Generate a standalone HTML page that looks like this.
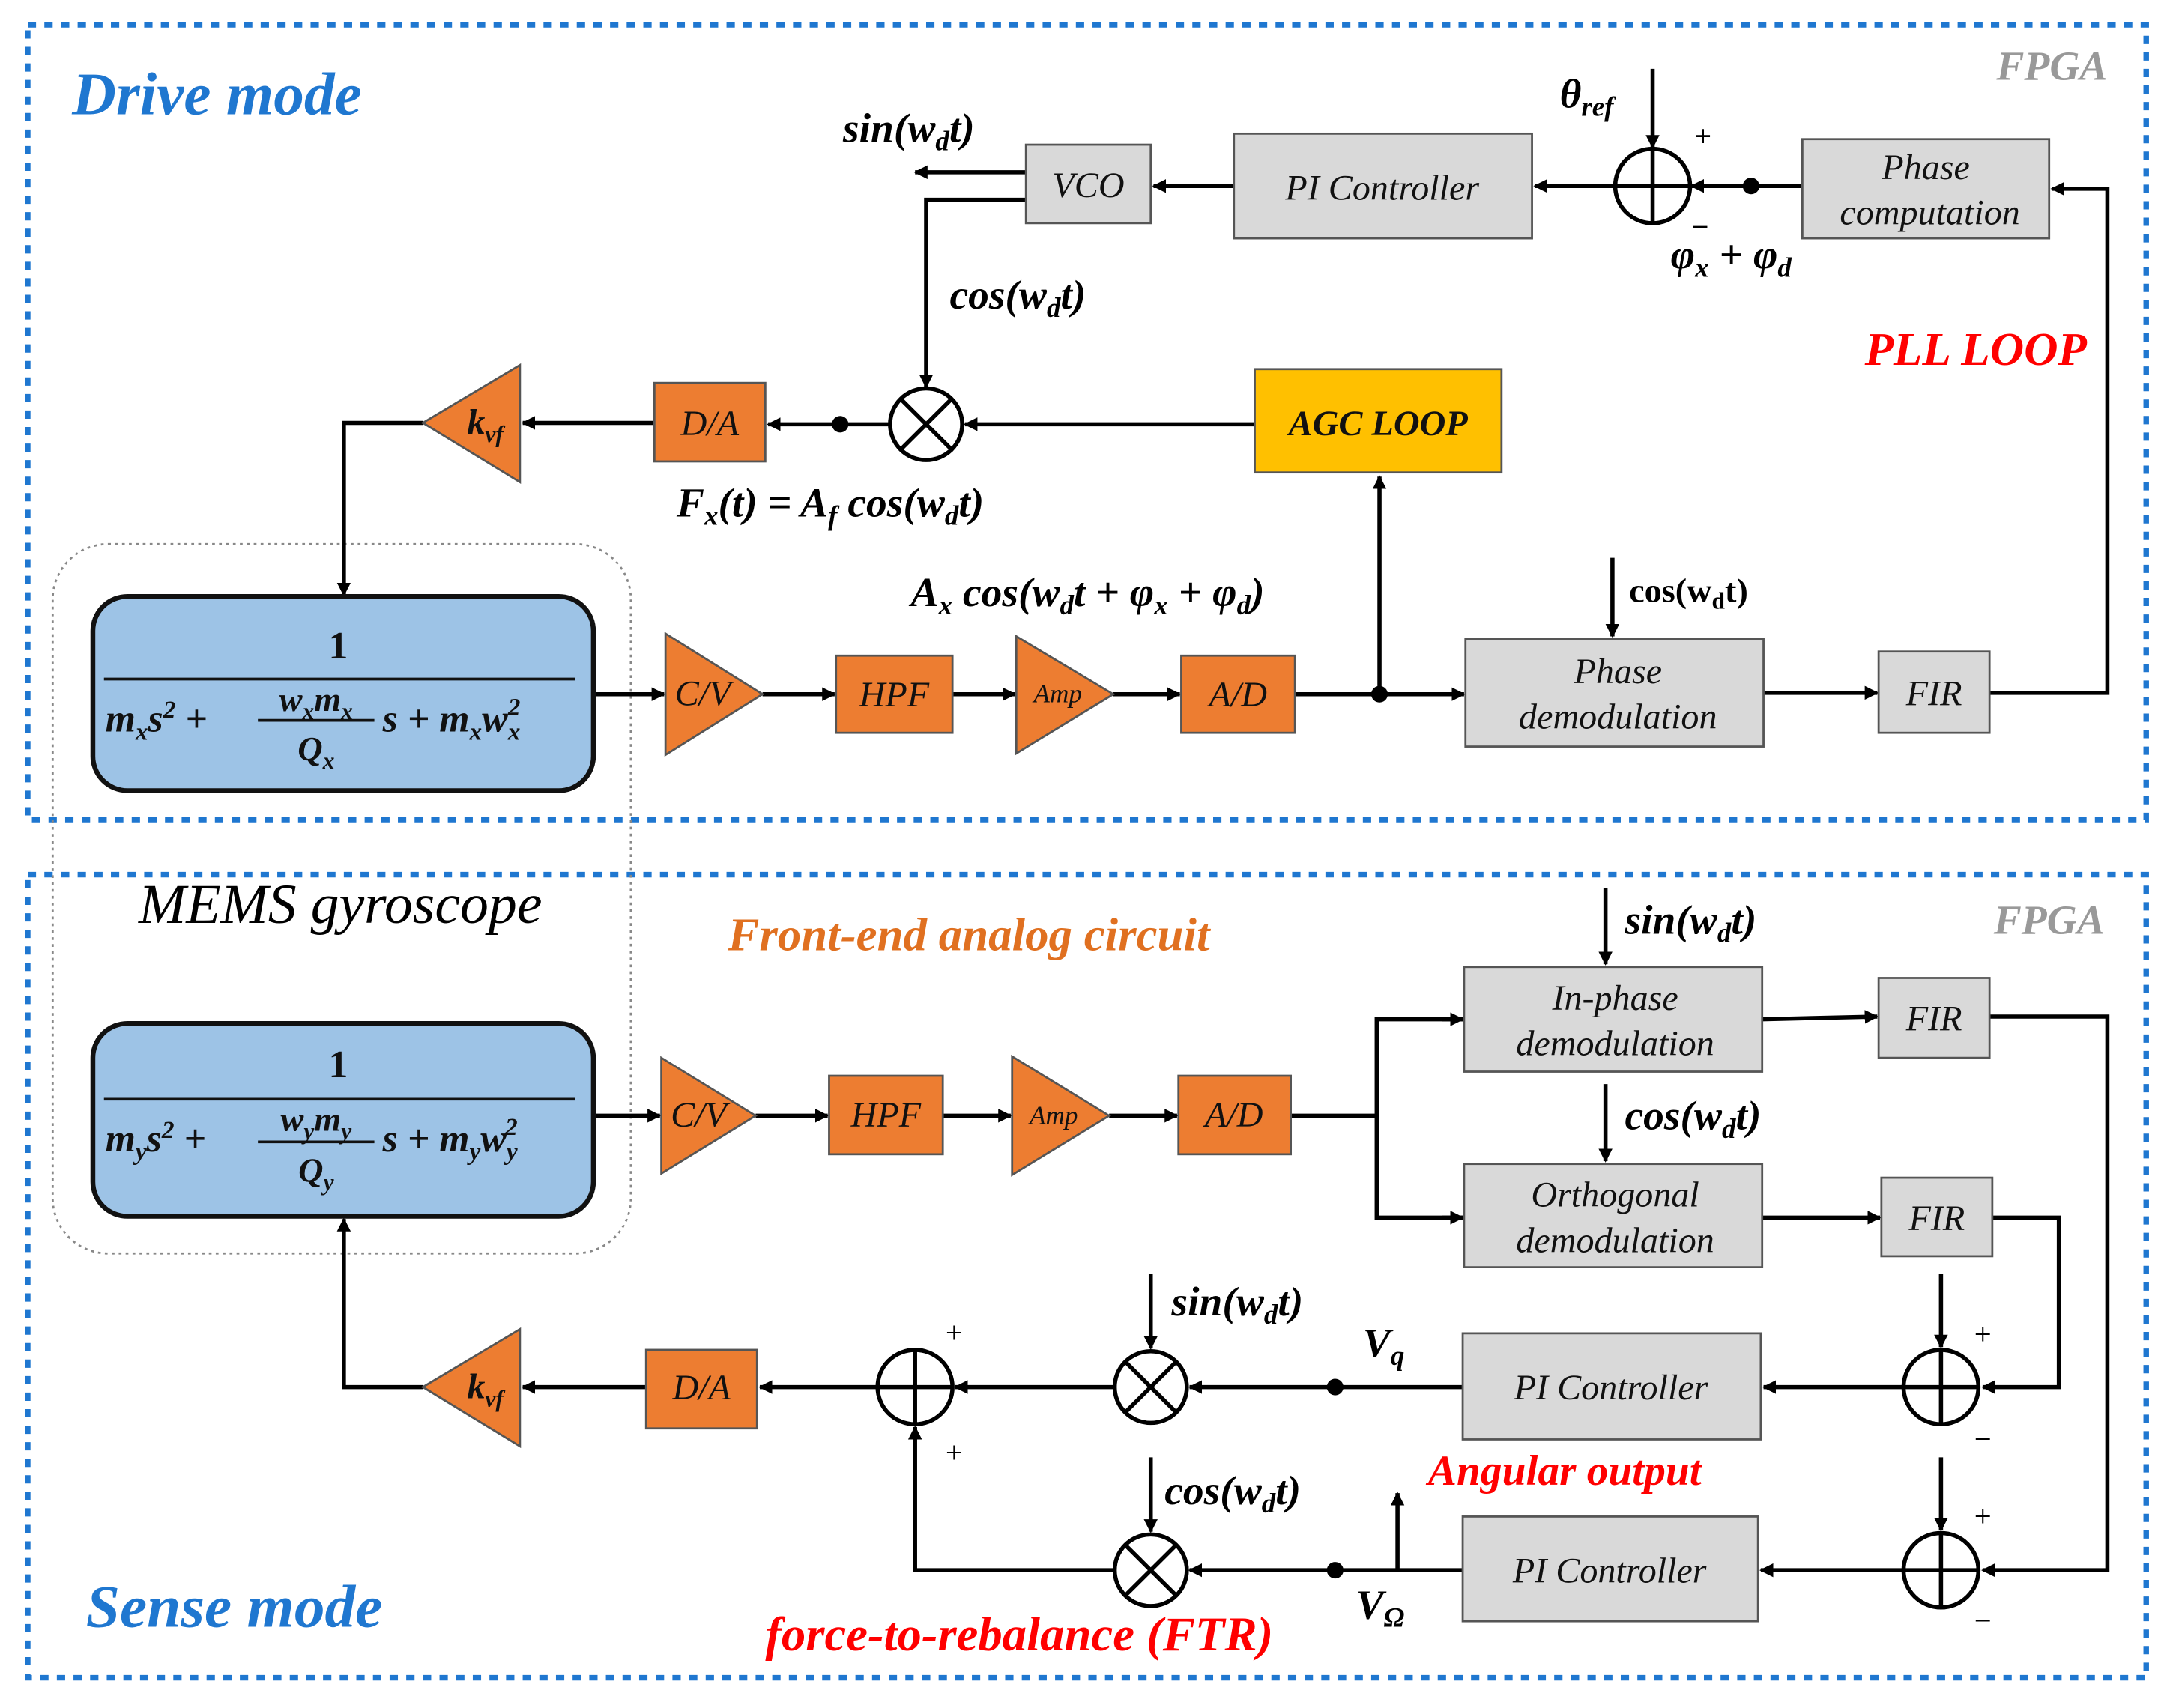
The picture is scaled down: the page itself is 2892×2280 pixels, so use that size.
<!DOCTYPE html>
<html><head><meta charset="utf-8"><style>
html,body{margin:0;padding:0;background:#fff;}
svg{display:block;}
text{font-family:"Liberation Serif",serif;}
.b{font-weight:bold;font-style:italic;}
.lbl{font-style:italic;font-size:26px;fill:#111;}
</style></head><body>
<svg width="2892" height="2280" viewBox="0 0 1563 1240" preserveAspectRatio="none" xmlns="http://www.w3.org/2000/svg">
<defs>
<marker id="a" markerWidth="10" markerHeight="10" refX="9" refY="5" orient="auto" markerUnits="userSpaceOnUse"><path d="M0,0 L10,5 L0,10 z" fill="#000"/></marker>
</defs>
<rect width="1563" height="1240" fill="#fff"/>
<rect x="20" y="18" width="1528" height="577" fill="none" stroke="#1f77d0" stroke-width="4" stroke-dasharray="6,6"/>
<rect x="20" y="635" width="1528" height="583" fill="none" stroke="#1f77d0" stroke-width="4" stroke-dasharray="6,6"/>
<rect x="38" y="395" width="417" height="515" rx="40" fill="none" stroke="#888" stroke-width="1.5" stroke-dasharray="2,3"/>
<text x="52" y="83" class="b" font-size="44" fill="#1f77d0">Drive mode</text>
<text x="62" y="1181" class="b" font-size="44" fill="#1f77d0">Sense mode</text>
<text x="1440" y="58" class="b" font-size="30" fill="#999">FPGA</text>
<text x="1438" y="678" class="b" font-size="30" fill="#999">FPGA</text>
<text x="1345" y="265" class="b" font-size="34" fill="#ff0000">PLL  LOOP</text>
<text x="100" y="670" font-style="italic" font-size="41" fill="#000">MEMS gyroscope</text>
<text x="525" y="690" class="b" font-size="34" fill="#e07020">Front-end analog circuit</text>
<text x="1030" y="1078" class="b" font-size="31" fill="#ff0000">Angular output</text>
<text x="552" y="1198" class="b" font-size="35" fill="#ff0000">force-to-rebalance (FTR)</text>

<g stroke="#000" stroke-width="3" fill="none">
<line x1="740" y1="125" x2="660" y2="125" marker-end="url(#a)"/>
<line x1="890" y1="135" x2="832" y2="135" marker-end="url(#a)"/>
<line x1="1165" y1="135" x2="1107" y2="135" marker-end="url(#a)"/>
<line x1="1300" y1="135" x2="1220" y2="135" marker-end="url(#a)"/>
<line x1="1192" y1="50" x2="1192" y2="107" marker-end="url(#a)"/>
<polyline points="740,145 668,145 668,281" marker-end="url(#a)"/>
<line x1="905" y1="308" x2="696" y2="308" marker-end="url(#a)"/>
<line x1="642" y1="308" x2="554" y2="308" marker-end="url(#a)"/>
<line x1="472" y1="307" x2="377" y2="307" marker-end="url(#a)"/>
<polyline points="305,307 248,307 248,432" marker-end="url(#a)"/>
<line x1="428" y1="504" x2="479" y2="504" marker-end="url(#a)"/>
<line x1="550" y1="504" x2="602" y2="504" marker-end="url(#a)"/>
<line x1="687" y1="504" x2="732" y2="504" marker-end="url(#a)"/>
<line x1="803" y1="504" x2="851" y2="504" marker-end="url(#a)"/>
<line x1="934" y1="504" x2="1056" y2="504" marker-end="url(#a)"/>
<line x1="995" y1="504" x2="995" y2="346" marker-end="url(#a)"/>
<line x1="1272" y1="503" x2="1354" y2="503" marker-end="url(#a)"/>
<line x1="1163" y1="405" x2="1163" y2="462" marker-end="url(#a)"/>
<polyline points="1435,503 1520,503 1520,137 1480,137" marker-end="url(#a)"/>
<line x1="428" y1="810" x2="476" y2="810" marker-end="url(#a)"/>
<line x1="545" y1="810" x2="597" y2="810" marker-end="url(#a)"/>
<line x1="680" y1="810" x2="729" y2="810" marker-end="url(#a)"/>
<line x1="800" y1="810" x2="849" y2="810" marker-end="url(#a)"/>
<line x1="931" y1="810" x2="993" y2="810"/>
<polyline points="1055,740 993,740 993,884 1055,884" />
<line x1="1040" y1="740" x2="1055" y2="740" marker-end="url(#a)"/>
<line x1="1040" y1="884" x2="1055" y2="884" marker-end="url(#a)"/>
<line x1="1158" y1="645" x2="1158" y2="700" marker-end="url(#a)"/>
<line x1="1158" y1="787" x2="1158" y2="843" marker-end="url(#a)"/>
<line x1="1271" y1="740" x2="1354" y2="738" marker-end="url(#a)"/>
<line x1="1271" y1="884" x2="1356" y2="884" marker-end="url(#a)"/>
<polyline points="1435,738 1520,738 1520,1140 1430,1140" marker-end="url(#a)"/>
<polyline points="1437,884 1485,884 1485,1007 1430,1007" marker-end="url(#a)"/>
<line x1="1400" y1="925" x2="1400" y2="978" marker-end="url(#a)"/>
<line x1="1400" y1="1058" x2="1400" y2="1111" marker-end="url(#a)"/>
<line x1="1373" y1="1007" x2="1272" y2="1007" marker-end="url(#a)"/>
<line x1="1373" y1="1140" x2="1270" y2="1140" marker-end="url(#a)"/>
<line x1="1055" y1="1007" x2="858" y2="1007" marker-end="url(#a)"/>
<line x1="1055" y1="1140" x2="858" y2="1140" marker-end="url(#a)"/>
<line x1="1008" y1="1140" x2="1008" y2="1084" marker-end="url(#a)"/>
<line x1="830" y1="925" x2="830" y2="979" marker-end="url(#a)"/>
<line x1="830" y1="1058" x2="830" y2="1112" marker-end="url(#a)"/>
<line x1="804" y1="1007" x2="689" y2="1007" marker-end="url(#a)"/>
<polyline points="804,1140 660,1140 660,1036" marker-end="url(#a)"/>
<line x1="633" y1="1007" x2="548" y2="1007" marker-end="url(#a)"/>
<line x1="466" y1="1007" x2="377" y2="1007" marker-end="url(#a)"/>
<polyline points="305,1007 248,1007 248,885" marker-end="url(#a)"/>
</g>
<g fill="#000">
<circle cx="1263" cy="135" r="6"/><circle cx="606" cy="308" r="6"/><circle cx="995" cy="504" r="6"/>
<circle cx="963" cy="1007" r="6"/><circle cx="963" cy="1140" r="6"/>
</g>
<g stroke="#000" stroke-width="3" fill="#fff">
<circle cx="1192" cy="135" r="27"/><circle cx="668" cy="308" r="26"/>
<circle cx="1400" cy="1007" r="27"/><circle cx="1400" cy="1140" r="27"/>
<circle cx="830" cy="1007" r="26"/><circle cx="830" cy="1140" r="26"/>
<circle cx="660" cy="1007" r="27"/>
</g>
<g stroke="#000" stroke-width="3">
<path d="M1165,135h54M1192,108v54M1373,1007h54M1400,980v54M1373,1140h54M1400,1113v54M633,1007h54M660,980v54"/>
<path d="M650,290l36,36M686,290l-36,36M812,989l36,36M848,989l-36,36M812,1122l36,36M848,1122l-36,36"/>
</g>
<g fill="#d9d9d9" stroke="#555" stroke-width="1.5">
<rect x="740" y="105" width="90" height="57"/>
<rect x="890" y="97" width="215" height="76"/>
<rect x="1300" y="101" width="178" height="72"/>
<rect x="1057" y="464" width="215" height="78"/>
<rect x="1355" y="473" width="80" height="59"/>
<rect x="1056" y="702" width="215" height="76"/>
<rect x="1056" y="845" width="215" height="75"/>
<rect x="1355" y="710" width="80" height="58"/>
<rect x="1357" y="855" width="80" height="57"/>
<rect x="1055" y="968" width="215" height="77"/>
<rect x="1055" y="1101" width="213" height="76"/>
</g>
<rect x="905" y="268" width="178" height="75" fill="#ffc000" stroke="#555" stroke-width="1.5"/>
<g fill="#ed7d31" stroke="#555" stroke-width="1.5">
<rect x="472" y="278" width="80" height="57"/>
<rect x="603" y="476" width="84" height="56"/>
<rect x="852" y="476" width="82" height="56"/>
<rect x="598" y="781" width="82" height="57"/>
<rect x="850" y="781" width="81" height="57"/>
<rect x="466" y="980" width="80" height="57"/>
<polygon points="305,307 375,265 375,350"/>
<polygon points="305,1007 375,965 375,1050"/>
<polygon points="480,460 550,504 480,548"/>
<polygon points="733,462 803,504 733,547"/>
<polygon points="477,768 545,810 477,852"/>
<polygon points="730,767 800,810 730,853"/>
</g>
<rect x="67" y="433" width="361" height="141" rx="25" fill="#9dc3e6" stroke="#111" stroke-width="3.5"/>
<rect x="67" y="743" width="361" height="140" rx="25" fill="#9dc3e6" stroke="#111" stroke-width="3.5"/>
<g font-weight="bold" font-style="italic" font-size="28" fill="#111">
<text x="244" y="478" text-anchor="middle" font-style="normal">1</text>
<line x1="75" y1="493" x2="415" y2="493" stroke="#111" stroke-width="2"/>
<text x="76" y="531">m<tspan font-size="18" dy="6">x</tspan><tspan dy="-6">s</tspan><tspan font-size="18" dy="-10">2</tspan><tspan dy="10"> +</tspan></text>
<text x="228" y="516" text-anchor="middle" font-size="25">w<tspan font-size="17" dy="6">x</tspan><tspan dy="-6">m</tspan><tspan font-size="17" dy="6">x</tspan></text>
<line x1="186" y1="523" x2="270" y2="523" stroke="#111" stroke-width="2"/>
<text x="228" y="552" text-anchor="middle" font-size="25">Q<tspan font-size="17" dy="6">x</tspan></text>
<text x="276" y="531">s + m<tspan font-size="18" dy="6">x</tspan><tspan dy="-6">w</tspan><tspan font-size="18" dy="6">x</tspan><tspan font-size="18" dx="-9" dy="-18">2</tspan></text>

<text x="244" y="782" text-anchor="middle" font-style="normal">1</text>
<line x1="75" y1="798" x2="415" y2="798" stroke="#111" stroke-width="2"/>
<text x="76" y="836">m<tspan font-size="18" dy="6">y</tspan><tspan dy="-6">s</tspan><tspan font-size="18" dy="-10">2</tspan><tspan dy="10"> +</tspan></text>
<text x="228" y="821" text-anchor="middle" font-size="25">w<tspan font-size="17" dy="6">y</tspan><tspan dy="-6">m</tspan><tspan font-size="17" dy="6">y</tspan></text>
<line x1="186" y1="829" x2="270" y2="829" stroke="#111" stroke-width="2"/>
<text x="228" y="858" text-anchor="middle" font-size="25">Q<tspan font-size="17" dy="6">y</tspan></text>
<text x="276" y="836">s + m<tspan font-size="18" dy="6">y</tspan><tspan dy="-6">w</tspan><tspan font-size="18" dy="6">y</tspan><tspan font-size="18" dx="-9" dy="-18">2</tspan></text>
</g>
<g text-anchor="middle">
<text x="785" y="143" class="lbl">VCO</text>
<text x="997" y="145" class="lbl">PI Controller</text>
<text x="1389" y="130" class="lbl">Phase</text><text x="1392" y="163" class="lbl">computation</text>
<text x="1167" y="496" class="lbl">Phase</text><text x="1167" y="529" class="lbl">demodulation</text>
<text x="1395" y="512" class="lbl">FIR</text>
<text x="1165" y="733" class="lbl">In-phase</text><text x="1165" y="766" class="lbl">demodulation</text>
<text x="1165" y="876" class="lbl">Orthogonal</text><text x="1165" y="909" class="lbl">demodulation</text>
<text x="1395" y="748" class="lbl">FIR</text><text x="1397" y="893" class="lbl">FIR</text>
<text x="1162" y="1016" class="lbl">PI Controller</text>
<text x="1161" y="1149" class="lbl">PI Controller</text>
<text x="994" y="316" class="lbl" font-weight="bold">AGC LOOP</text>
<text x="512" y="316" class="lbl">D/A</text><text x="506" y="1016" class="lbl">D/A</text>
<text x="645" y="513" class="lbl">HPF</text><text x="639" y="818" class="lbl">HPF</text>
<text x="893" y="513" class="lbl">A/D</text><text x="890" y="818" class="lbl">A/D</text>
<text x="507" y="512" class="lbl">C/V</text><text x="504" y="818" class="lbl">C/V</text>
<text x="763" y="510" class="lbl" style="font-size:19px">Amp</text><text x="760" y="816" class="lbl" style="font-size:19px">Amp</text>
<text x="350" y="315" class="lbl" font-weight="bold">k<tspan font-size="17" dy="6">vf</tspan></text>
<text x="350" y="1015" class="lbl" font-weight="bold">k<tspan font-size="17" dy="6">vf</tspan></text>
</g>
<g class="b" font-size="30" fill="#000">
<text x="608" y="103">sin(w<tspan font-size="20" dy="6">d</tspan><tspan dy="-6">t)</tspan></text>
<text x="685" y="224">cos(w<tspan font-size="20" dy="6">d</tspan><tspan dy="-6">t)</tspan></text>
<text x="1125" y="78">θ<tspan font-size="20" dy="6">ref</tspan></text>
<text x="1222" y="106" font-style="normal" font-size="22">+</text>
<text x="1220" y="172" font-style="normal" font-size="22">−</text>
<text x="1205" y="195">φ<tspan font-size="20" dy="6">x</tspan><tspan dy="-6"> + φ</tspan><tspan font-size="20" dy="6">d</tspan></text>
<text x="488" y="375">F<tspan font-size="20" dy="6">x</tspan><tspan dy="-6">(t) = A</tspan><tspan font-size="20" dy="6">f</tspan><tspan dy="-6"> cos(w</tspan><tspan font-size="20" dy="6">d</tspan><tspan dy="-6">t)</tspan></text>
<text x="657" y="440">A<tspan font-size="20" dy="6">x</tspan><tspan dy="-6"> cos(w</tspan><tspan font-size="20" dy="6">d</tspan><tspan dy="-6">t + φ</tspan><tspan font-size="20" dy="6">x</tspan><tspan dy="-6"> + φ</tspan><tspan font-size="20" dy="6">d</tspan><tspan dy="-6">)</tspan></text>
<text x="1175" y="437" font-size="25" font-style="normal">cos(w<tspan font-size="17" dy="5">d</tspan><tspan dy="-5">t)</tspan></text>
<text x="1172" y="678">sin(w<tspan font-size="20" dy="6">d</tspan><tspan dy="-6">t)</tspan></text>
<text x="1172" y="820">cos(w<tspan font-size="20" dy="6">d</tspan><tspan dy="-6">t)</tspan></text>
<text x="845" y="955">sin(w<tspan font-size="20" dy="6">d</tspan><tspan dy="-6">t)</tspan></text>
<text x="840" y="1092">cos(w<tspan font-size="20" dy="6">d</tspan><tspan dy="-6">t)</tspan></text>
<text x="983" y="985">V<tspan font-size="20" dy="6">q</tspan></text>
<text x="978" y="1175">V<tspan font-size="20" dy="6">Ω</tspan></text>
</g>
<g font-size="22" fill="#000">
<text x="1424" y="976">+</text><text x="1424" y="1052">−</text>
<text x="1424" y="1108">+</text><text x="1424" y="1184">−</text>
<text x="682" y="975">+</text><text x="682" y="1062">+</text>
</g>
</svg>
</body></html>
